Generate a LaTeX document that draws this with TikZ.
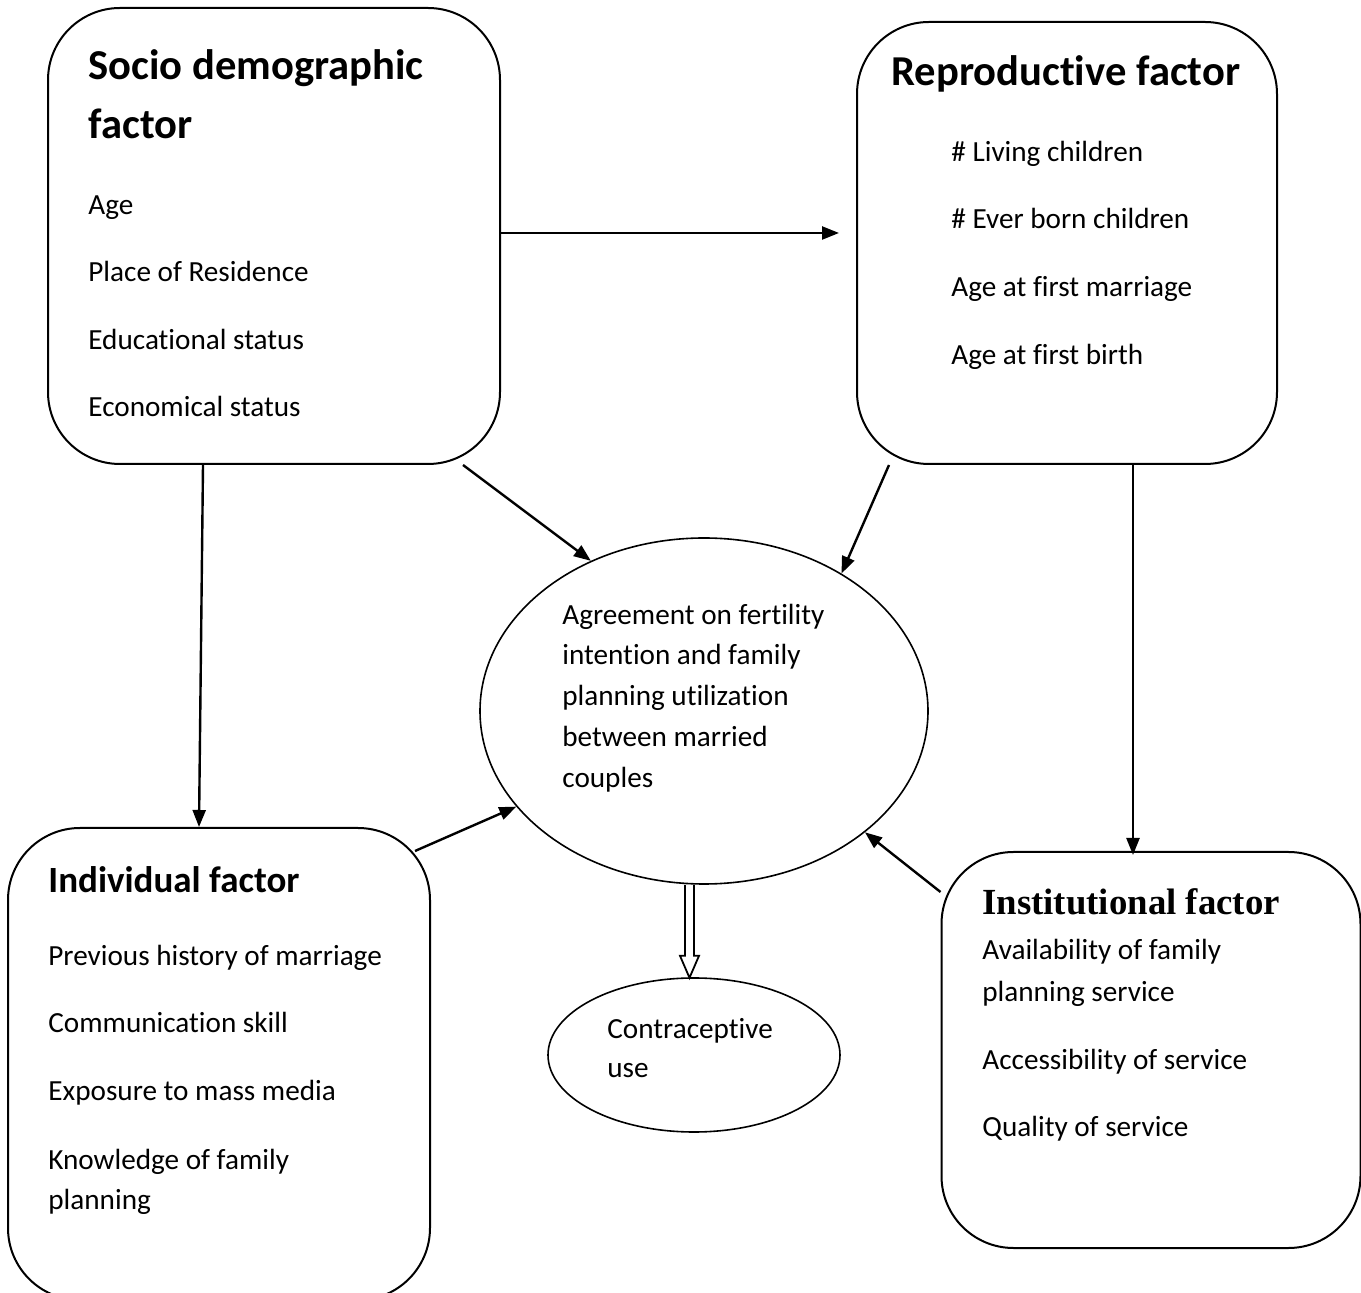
\documentclass[tikz,border=0pt]{standalone}
\usepackage{fontspec}
\setmainfont{Carlito}[Ligatures=NoCommon]
\newfontfamily\timesface{Liberation Serif}
\usetikzlibrary{positioning,calc,shapes.geometric,arrows.meta}
\tikzset{factorbox/.style={draw, line width=1pt, rounded corners=36pt, inner sep=0pt}}
\tikzset{ovalbox/.style={draw, ellipse, line width=0.8pt, inner sep=0pt}}
\tikzset{itemtxt/.style={anchor=base west, inner sep=0pt, font=\fontsize{14.6}{20.5}\selectfont}}
\tikzset{headtxt/.style={anchor=base west, inner sep=0pt, font=\fontsize{21.3}{26.5}\selectfont\bfseries}}
\tikzset{arr/.style={draw, line width=1.2pt, -{Triangle[length=8.5pt,width=6.5pt]}}}
\tikzset{openarr/.style={draw, line width=0.9pt, line join=miter}}

\begin{document}
\begin{tikzpicture}[x=0.5pt, y=-0.5pt]
	\useasboundingbox (0,0) rectangle (1361,1293);
	% factor boxes
	\node[factorbox, minimum width=226pt, minimum height=228pt] (socio) at (274,236) {};
	\node[factorbox, minimum width=210pt, minimum height=221pt] (repro) at (1067,243) {};
	\node[factorbox, minimum width=211pt, minimum height=236pt] (indiv) at (219,1064) {};
	\node[factorbox, minimum width=209.5pt, minimum height=198pt] (inst) at (1151,1050) {};
	\node[ovalbox, minimum width=224pt, minimum height=173pt] (agree) at (704,711) {};
	\node[ovalbox, minimum width=146pt, minimum height=77pt] (contra) at (694,1055) {};
	%
	\node[headtxt] (sochead) at (88,80) {Socio demographic};
	\node[headtxt] (sochead2) at (88,139) {factor};
	\foreach \y/\t [count=\i] in {215/Age, 282/Place of Residence, 350/Educational status, 417/Economical status}
		\node[itemtxt] (soc\i) at (88,\y) {\t};
	%
	\node[headtxt] (rephead) at (891,86) {Reproductive factor};
	\foreach \y/\t [count=\i] in {162/\# Living children, 229/\# Ever born children, 297/Age at first marriage, 365/Age at first birth}
		\node[itemtxt] (rep\i) at (951,\y) {\t};
	%
	\node[headtxt, font=\fontsize{18.5}{22}\selectfont\bfseries] (indhead) at (48,893) {Individual factor};
	\foreach \y/\t [count=\i] in {966/Previous history of marriage, 1033/Communication skill, 1101/Exposure to mass media, 1169/Knowledge of family, 1209/planning}
		\node[itemtxt] (ind\i) at (48,\y) {\t};
	%
	\node[headtxt, font=\fontsize{18.4}{22}\timesface\bfseries] (insthead) at (982,915) {Institutional factor};
	\foreach \y/\t [count=\i] in {960/Availability of family, 1001/planning service, 1069/Accessibility of service, 1137/Quality of service}
		\node[itemtxt] (ins\i) at (982,\y) {\t};
	%
	\foreach \y/\t [count=\i] in {625/Agreement on fertility, 665/intention and family, 706/planning utilization, 747/between married, 788/couples}
		\node[itemtxt] (agr\i) at (562,\y) {\t};
	\node[itemtxt] (con1) at (607,1038) {Contraceptive};
	\node[itemtxt] (con2) at (607,1078) {use};
	%
	\draw[arr] ([yshift=1.5pt]socio.east) -- ([yshift=1.5pt]socio.east -| repro.west) [shorten >=8.5pt];
	\draw[arr] ([xshift=-35.5pt]socio.south) -- ([xshift=-10pt]indiv.north);
	\draw[arr] ([xshift=94.5pt]socio.south) -- (agree.127);
	\draw[arr] ([xshift=-89pt]repro.south) -- (agree.45);
	\draw[arr] ([xshift=33pt]repro.south) -- ([xshift=33pt,yshift=-2pt]repro.south |- inst.north);
	\draw[arr] ([xshift=-8pt,yshift=-12pt]indiv.north east) -- (agree.207);
	\draw[arr] ([yshift=-20.5pt]inst.north west) -- (agree.323);
	% open arrow to contraceptive use
	\coordinate (dtop) at ([xshift=-7.25pt]agree.south);
	\draw[openarr] ([xshift=-2.25pt]dtop) -- ++(0pt,-35.5pt) -- ++(-2.5pt,0pt) -- ++(4.75pt,-11pt)
		-- ++(4.75pt,11pt) -- ++(-2.5pt,0pt) -- ++(0pt,35.5pt);
\end{tikzpicture}
\end{document}
